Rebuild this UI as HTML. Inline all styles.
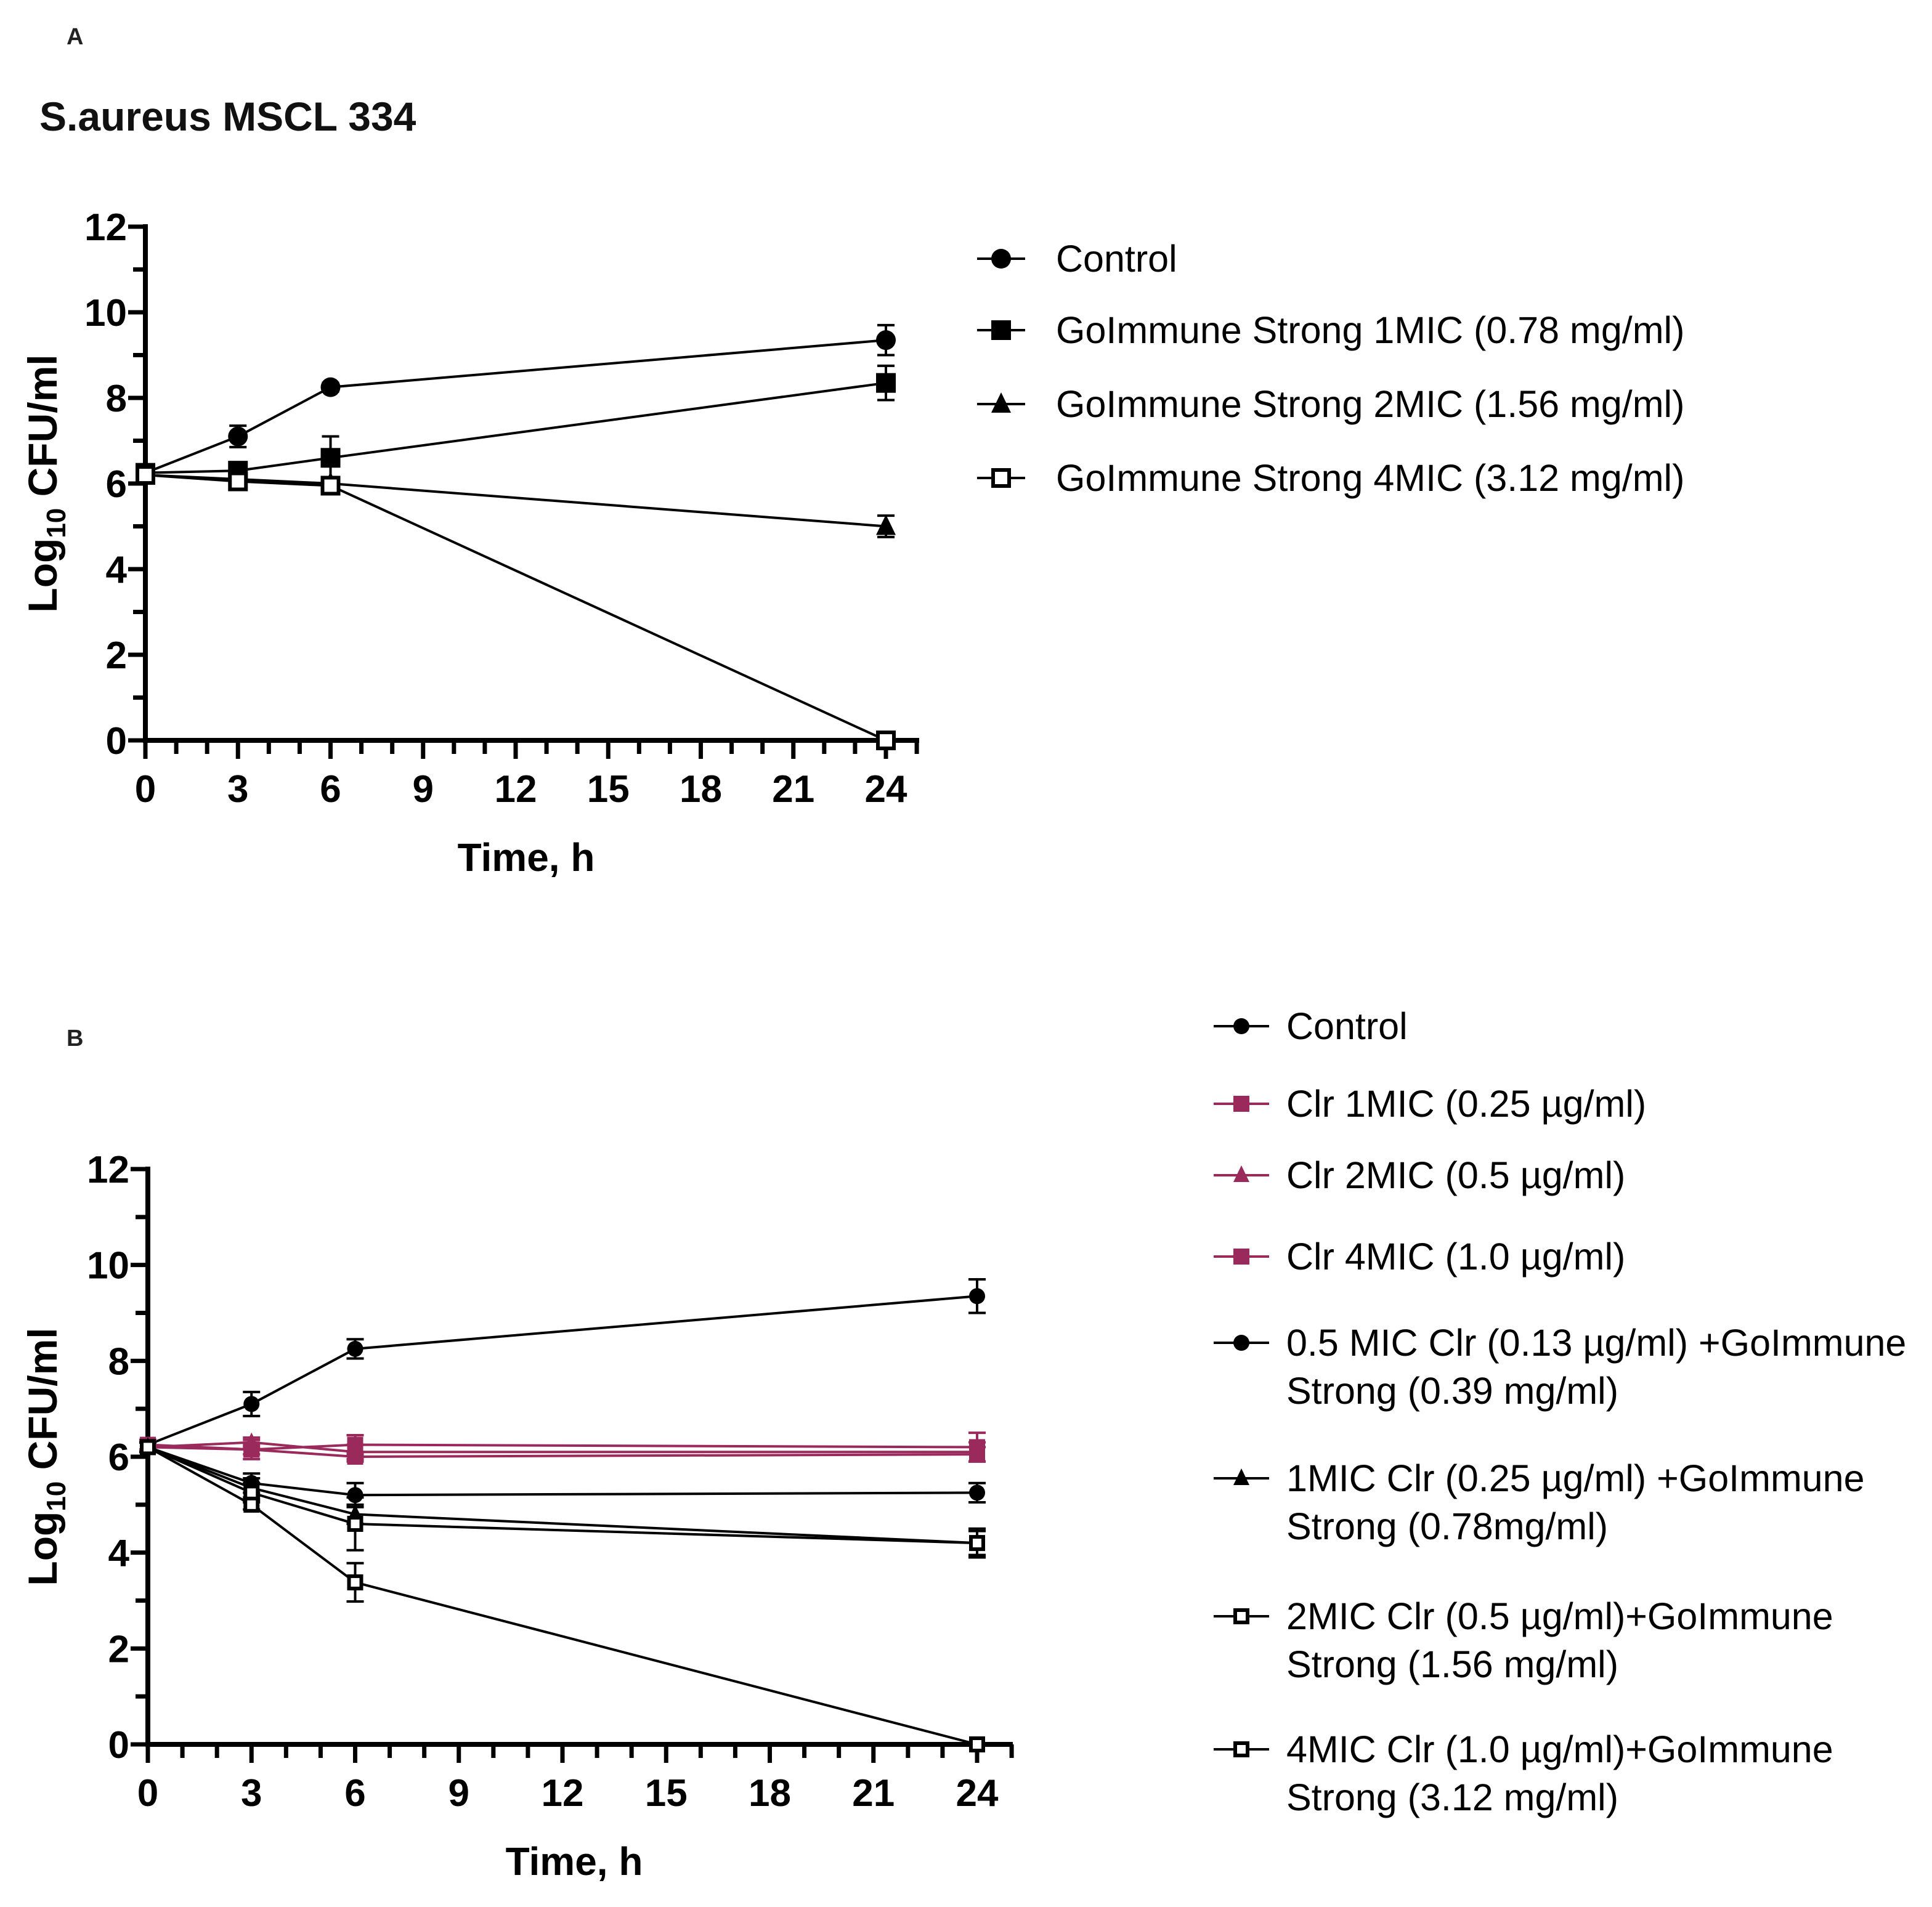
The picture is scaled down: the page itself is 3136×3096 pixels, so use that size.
<!DOCTYPE html>
<html><head><meta charset="utf-8"><style>
html,body{margin:0;padding:0;background:#fff;}
svg{display:block;font-family:"Liberation Sans",Arial,sans-serif;}
</style></head><body>
<svg id="s" width="3136" height="3096" viewBox="0 0 3136 3096" xmlns="http://www.w3.org/2000/svg">
<rect width="3136" height="3096" fill="#fff"/>
<text x="108" y="72" font-size="38" font-weight="bold" fill="#222">A</text>
<text x="64" y="212" font-size="66" font-weight="bold" fill="#111">S.aureus MSCL 334</text>
<text x="108" y="1698" font-size="38" font-weight="bold" fill="#222">B</text>
</svg>
<script>
const times=[0,3,6,24];
const xTicks=[0,3,6,9,12,15,18,21,24];
const yTicks=[0,2,4,6,8,10,12];
const aNames=["Control","GoImmune Strong 1MIC (0.78 mg/ml)","GoImmune Strong 2MIC (1.56 mg/ml)","GoImmune Strong 4MIC (3.12 mg/ml)"];
const aControl=[6.25,7.1,8.25,9.35];
const aControlErr=[0.1,0.25,0.1,0.35];
const a1MIC=[6.25,6.3,6.6,8.35];
const a1MICErr=[0.1,0.15,0.5,0.4];
const a2MIC=[6.2,6.1,6.0,5.0];
const a2MICErr=[0.1,0.15,0.1,0.25];
const a4MIC=[6.2,6.05,5.95,0];
const a4MICErr=[0.1,0.1,0.1,0];
const bNames=["Control","Clr 1MIC (0.25 µg/ml)","Clr 2MIC (0.5 µg/ml)","Clr 4MIC (1.0 µg/ml)","0.5 MIC Clr (0.13 µg/ml) +GoImmune|Strong (0.39 mg/ml)","1MIC Clr (0.25 µg/ml) +GoImmune|Strong (0.78mg/ml)","2MIC Clr (0.5 µg/ml)+GoImmune|Strong (1.56 mg/ml)","4MIC Clr (1.0 µg/ml)+GoImmune|Strong (3.12 mg/ml)"];
const bControl=[6.25,7.1,8.25,9.35];
const bControlErr=[0.1,0.25,0.2,0.35];
const bClr1=[6.25,6.15,6.25,6.2];
const bClr1Err=[0.1,0.2,0.2,0.3];
const bClr2=[6.2,6.3,6.1,6.1];
const bClr2Err=[0.1,0.1,0.15,0.2];
const bClr4=[6.2,6.15,6.0,6.05];
const bClr4Err=[0.1,0.1,0.1,0.15];
const bCombo05=[6.2,5.45,5.2,5.25];
const bCombo05Err=[0.1,0.2,0.25,0.2];
const bCombo1=[6.2,5.35,4.8,4.2];
const bCombo1Err=[0.1,0.2,0.2,0.25];
const bCombo2=[6.2,5.25,4.6,4.2];
const bCombo2Err=[0.1,0.2,0.55,0.3];
const bCombo4=[6.2,5.0,3.38,0];
const bCombo4Err=[0.1,0.1,0.4,0];

const NS="http://www.w3.org/2000/svg";
const svg=document.getElementById('s');
function el(t,a,p){const e=document.createElementNS(NS,t);for(const k in a)e.setAttribute(k,a[k]);(p||svg).appendChild(e);return e;}
const CR="#9b2a5c";

function panel(P,series,names,lg){
  const g=el('g',{});
  
  
  const X=t=>P.x0+(P.x24-P.x0)*t/24, Y=v=>P.y0-(P.y0-P.y12)*v/12;
  const ya=el('line',{x1:P.x0,y1:P.y12-4,x2:P.x0,y2:P.y0+4,stroke:'#000','stroke-width':8},g);
  
  const xa=el('line',{x1:P.x0-4,y1:P.y0,x2:P.xend,y2:P.y0,stroke:'#000','stroke-width':8},g);
  
  for(let t=0;t<=25;t++){
    const major=xTicks.includes(t);
    el('line',{x1:X(t),y1:P.y0,x2:X(t),y2:P.y0+(major?30:22),stroke:'#000','stroke-width':7},g);
  }
  for(const t of xTicks){
    const tx=el('text',{x:X(t),y:P.y0+100,'font-size':62,'font-weight':'bold','text-anchor':'middle'},g);
    tx.textContent=t;
    
  }
  for(let v=0;v<=12;v++){
    el('line',{x1:P.x0-(v%2?20:28),y1:Y(v),x2:P.x0,y2:Y(v),stroke:'#000','stroke-width':7},g);
  }
  for(const v of yTicks){
    const tx=el('text',{x:P.x0-30,y:Y(v)+22,'font-size':62,'font-weight':'bold','text-anchor':'end'},g);
    tx.textContent=v;
    
  }
  const xt=el('text',{x:(P.x0+P.xend)/2-10,y:P.y0+212,'font-size':64,'font-weight':'bold','text-anchor':'middle'},g);
  xt.textContent='Time, h';
  
  const cy=(P.y0+P.y12)/2;
  const yt=el('text',{x:0,y:0,'font-size':66,'font-weight':'bold','text-anchor':'middle',transform:`translate(${P.ytx},${cy}) rotate(-90)`},g);
  
  yt.innerHTML='Log<tspan font-size="44" dy="14">10</tspan><tspan dy="-14"> CFU/ml</tspan>';
  series.forEach((s,i)=>{
    const sg=el('g',{},g);
    
    
    const pts=times.map((t,j)=>X(t)+','+Y(s.v[j])).join(' ');
    el('polyline',{points:pts,fill:'none',stroke:s.c,'stroke-width':4},sg);
    times.forEach((t,j)=>{
      const e=s.e[j];
      if(e>0){
        el('line',{x1:X(t),y1:Y(s.v[j]+e),x2:X(t),y2:Y(s.v[j]-e),stroke:s.c,'stroke-width':4},sg);
        el('line',{x1:X(t)-14,y1:Y(s.v[j]+e),x2:X(t)+14,y2:Y(s.v[j]+e),stroke:s.c,'stroke-width':4},sg);
        el('line',{x1:X(t)-14,y1:Y(s.v[j]-e),x2:X(t)+14,y2:Y(s.v[j]-e),stroke:s.c,'stroke-width':4},sg);
      }
      const m=marker(s.m,X(t),Y(s.v[j]),s.c,P.ms,sg);
      
      
    });
  });
  names.forEach((n,i)=>{
    const s=series[i];const ly=lg.ys[i];
    const lgg=el('g',{},g);
    
    
    el('line',{x1:lg.x1,y1:ly,x2:lg.x2,y2:ly,stroke:s.c,'stroke-width':4},lgg);
    marker(s.m,(lg.x1+lg.x2)/2,ly,s.c,P.ms,lgg);
    const parts=n.split('|');
    parts.forEach((p,k)=>{
      const tx=el('text',{x:lg.tx,y:ly+21+k*78,'font-size':61},lgg);
      tx.textContent=p;
    });
  });
}
function marker(type,x,y,c,r,p){
  if(type==='circle')return el('circle',{cx:x,cy:y,r:r,fill:c},p);
  if(type==='square')return el('rect',{x:x-r,y:y-r,width:2*r,height:2*r,fill:c},p);
  if(type==='open')return el('rect',{x:x-r+3,y:y-r+3,width:2*r-6,height:2*r-6,fill:'#fff',stroke:c,'stroke-width':6},p);
  if(type==='tri')return el('polygon',{points:`${x},${y-r-3} ${x-r},${y+r-2} ${x+r},${y+r-2}`,fill:c},p);
}
panel({name:'panel-a-chart',x0:236,x24:1438,xend:1492,y0:1202,y12:368,ytx:92,ms:16},[
  {id:'control',v:aControl,e:aControlErr,m:'circle',c:'#000'},
  {id:'1mic',v:a1MIC,e:a1MICErr,m:'square',c:'#000'},
  {id:'2mic',v:a2MIC,e:a2MICErr,m:'tri',c:'#000'},
  {id:'4mic',v:a4MIC,e:a4MICErr,m:'open',c:'#000'}
],aNames,{x1:1586,x2:1664,tx:1714,ys:[420,536,656,776]});
panel({name:'panel-b-chart',x0:240,x24:1586,xend:1644,y0:2832,y12:1898,ytx:92,ms:13},[
  {id:'control',v:bControl,e:bControlErr,m:'circle',c:'#000'},
  {id:'clr-1mic',v:bClr1,e:bClr1Err,m:'square',c:CR},
  {id:'clr-2mic',v:bClr2,e:bClr2Err,m:'tri',c:CR},
  {id:'clr-4mic',v:bClr4,e:bClr4Err,m:'square',c:CR},
  {id:'combo-0-5mic',v:bCombo05,e:bCombo05Err,m:'circle',c:'#000'},
  {id:'combo-1mic',v:bCombo1,e:bCombo1Err,m:'tri',c:'#000'},
  {id:'combo-2mic',v:bCombo2,e:bCombo2Err,m:'open',c:'#000'},
  {id:'combo-4mic',v:bCombo4,e:bCombo4Err,m:'open',c:'#000'}
],bNames,{x1:1970,x2:2060,tx:2088,ys:[1666,1792,1908,2040,2180,2400,2624,2840]});
</script>
</body></html>
